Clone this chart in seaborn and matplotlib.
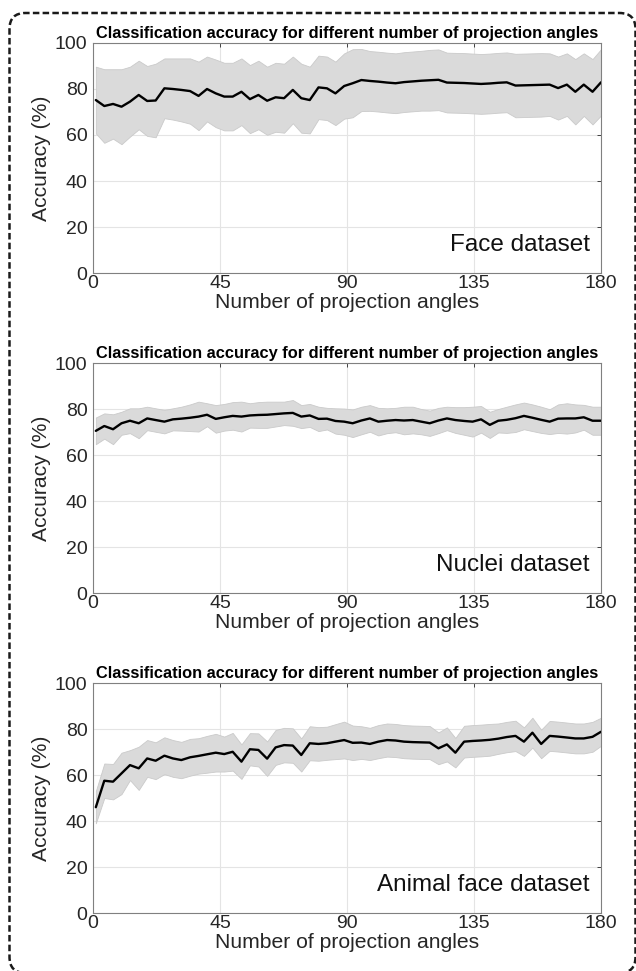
import numpy as np
import pandas as pd
import seaborn as sns
import matplotlib
matplotlib.use("Agg")
import matplotlib.pyplot as plt
from matplotlib.patches import FancyBboxPatch
from matplotlib.transforms import IdentityTransform

# ---------------- data ----------------
angles = [1, 4, 7.1, 10.1, 13.1, 16.2, 19.2, 22.2, 25.3, 28.3,
          31.3, 34.4, 37.4, 40.4, 43.5, 46.5, 49.5, 52.6, 55.6, 58.6,
          61.7, 64.7, 67.7, 70.8, 73.8, 76.8, 79.9, 82.9, 85.9, 89.0,
          92.0, 95.1, 98.1, 101.1, 104.2, 107.2, 110.2, 113.3, 116.3, 119.3,
          122.4, 125.4, 128.4, 131.5, 134.5, 137.5, 140.6, 143.6, 146.6, 149.7,
          152.7, 155.7, 158.8, 161.8, 164.8, 167.9, 170.9, 173.9, 177.0, 180.0]

face_mean = [75.2, 72.6, 73.5, 72.3, 74.5, 77.4, 74.8, 75.0, 80.3, 80.0,
             79.6, 79.1, 77.0, 80.0, 78.1, 76.7, 76.7, 78.8, 75.6, 77.4,
             74.9, 76.4, 76.0, 79.6, 76.0, 75.2, 80.7, 80.3, 78.1, 81.3,
             82.5, 83.9, 83.5, 83.2, 82.8, 82.5, 83.0, 83.3, 83.6, 83.8,
             84.0, 82.8, 82.7, 82.6, 82.4, 82.2, 82.4, 82.7, 82.9, 81.5,
             81.6, 81.7, 81.8, 81.9, 80.4, 81.9, 78.8, 81.9, 78.8, 82.9]
face_sd = [14.5, 16.0, 15.1, 16.3, 15.2, 14.9, 15.2, 16.0, 13.0, 13.3,
           13.7, 14.2, 14.9, 14.1, 14.7, 14.7, 14.7, 14.5, 14.8, 14.9,
           14.8, 15.0, 15.0, 14.5, 15.0, 14.5, 13.8, 13.8, 13.8, 14.2,
           14.8, 13.5, 13.0, 13.0, 13.0, 13.0, 13.0, 13.0, 13.0, 13.2,
           13.2, 13.0, 13.0, 13.0, 13.0, 13.0, 13.0, 13.0, 13.0, 13.8,
           13.8, 13.8, 13.8, 13.6, 13.7, 13.6, 14.2, 13.6, 14.2, 14.4]

nuclei_mean = [70.5, 72.6, 71.2, 73.8, 74.9, 73.8, 75.9, 75.2, 74.5, 75.5,
               75.8, 76.2, 76.7, 77.5, 75.7, 76.4, 77.0, 76.7, 77.2, 77.4,
               77.5, 77.8, 78.1, 78.3, 76.7, 77.2, 75.7, 75.8, 74.8, 74.5,
               73.8, 75.0, 75.9, 74.5, 74.9, 75.2, 75.0, 75.2, 74.5, 73.8,
               75.0, 75.9, 75.2, 74.8, 74.5, 75.5, 73.1, 74.9, 75.3, 76.0,
               77.0, 76.2, 75.3, 74.5, 75.8, 75.9, 75.9, 76.4, 74.9, 74.9]
nuclei_sd = [5.8, 5.5, 6.5, 5.0, 5.4, 6.5, 5.1, 5.1, 5.1, 4.8,
             5.2, 5.8, 6.5, 5.0, 6.0, 5.8, 6.0, 6.5, 5.3, 5.6,
             5.7, 5.4, 5.1, 5.6, 5.0, 5.0, 5.3, 4.7, 5.5, 5.7,
             6.0, 6.0, 5.8, 6.0, 5.4, 5.3, 6.0, 5.8, 5.5, 5.5,
             5.5, 5.1, 5.6, 6.0, 6.5, 5.8, 5.7, 5.1, 5.7, 6.0,
             5.8, 5.8, 5.7, 5.4, 6.2, 6.6, 6.1, 5.4, 6.1, 6.1]

animal_mean = [46.0, 57.5, 57.1, 60.7, 64.3, 62.9, 67.2, 66.2, 68.4, 67.2,
               66.5, 67.7, 68.3, 69.0, 69.7, 69.1, 70.1, 65.8, 71.2, 70.9,
               67.1, 72.0, 73.0, 72.8, 68.7, 73.8, 73.5, 73.8, 74.5, 75.2,
               74.0, 74.1, 73.5, 74.5, 75.2, 75.0, 74.5, 74.3, 74.2, 74.1,
               71.6, 73.3, 69.7, 74.5, 74.8, 75.0, 75.3, 75.8, 76.5, 77.0,
               74.5, 78.4, 73.5, 77.0, 76.7, 76.3, 75.9, 75.9, 76.6, 78.8]
animal_sd = [7.0, 7.5, 7.7, 9.0, 6.5, 9.4, 8.0, 8.0, 8.0, 8.0,
             7.9, 8.0, 7.7, 8.0, 8.2, 7.6, 8.2, 7.5, 7.0, 7.2,
             7.5, 7.6, 7.5, 7.5, 7.2, 7.4, 7.3, 7.2, 7.6, 8.0,
             7.5, 7.1, 7.0, 7.2, 7.2, 7.2, 7.2, 7.2, 7.2, 7.2,
             6.9, 7.4, 6.4, 6.9, 6.9, 6.9, 6.9, 6.6, 6.6, 6.6,
             6.2, 6.5, 6.2, 6.5, 6.5, 6.5, 6.5, 6.5, 6.5, 6.1]

x_ticks = [0, 45, 90, 135, 180]
y_ticks = [0, 20, 40, 60, 80, 100]
panel_title = "Classification accuracy for different number of projection angles"
dataset_labels = ["Face dataset", "Nuclei dataset", "Animal face dataset"]
x_label = "Number of projection angles"
y_label = "Accuracy (%)"

# ---------------- style ----------------
sns.set_theme(style="white")
plt.rcParams['font.family'] = ['Liberation Sans', 'DejaVu Sans']

W, H = 636, 971
fig = plt.figure(figsize=(W / 100, H / 100), dpi=100)

panels = [(face_mean, face_sd), (nuclei_mean, nuclei_sd), (animal_mean, animal_sd)]
tops_px = [43, 363, 683]
ax_h_px = 230
left_px, right_px = 93, 601

for (mean, sd), label, top in zip(panels, dataset_labels, tops_px):
    ax = fig.add_axes([left_px / W, 1 - (top + ax_h_px) / H,
                       (right_px - left_px) / W, ax_h_px / H])
    mean_a = np.array(mean)
    sd_a = np.array(sd)
    df = pd.DataFrame({"angle": angles, "acc": mean_a})
    ax.fill_between(df["angle"], mean_a - sd_a, mean_a + sd_a,
                    facecolor="#dadada", edgecolor="#cacaca", linewidth=0.6, zorder=1)
    sns.lineplot(data=df, x="angle", y="acc", ax=ax, color="black",
                 linewidth=1.7, zorder=3)
    ax.set_xlim(0, 180)
    ax.set_ylim(0, 100)
    ax.set_xticks(x_ticks)
    ax.set_yticks(y_ticks)
    ax.grid(True, color="#e4e4e4", linewidth=0.8)
    ax.set_axisbelow(True)
    ax.tick_params(direction="in", length=3, width=0.6, top=True, right=True,
                   labelsize=14, colors="#262626", pad=4)
    ax.tick_params(axis="x", pad=1.5)
    for s in ax.spines.values():
        s.set_visible(True)
        s.set_color("#808080")
        s.set_linewidth(0.8)
    ax.set_xlabel(x_label, fontsize=15.2, color="#262626", labelpad=1)
    ax.set_ylabel(y_label, fontsize=15.2, color="#262626", labelpad=3)
    ax.set_title(panel_title, fontsize=11.8, fontweight="bold", color="black", pad=3.5)
    ax.text(0.978, 0.12, label, transform=ax.transAxes, ha="right", va="center",
            fontsize=17.5, color="#111111")

# dashed rounded frame around whole figure (pixel coordinates, origin bottom-left)
frame = FancyBboxPatch((9.5, -2), 626, 960,
                       boxstyle="round,pad=0,rounding_size=16",
                       transform=IdentityTransform(), fill=False,
                       edgecolor="#1a1a1a", linewidth=1.8, linestyle=(0, (2.6, 1.3)))
fig.patches.append(frame)

fig.savefig("out.png", dpi=100)
